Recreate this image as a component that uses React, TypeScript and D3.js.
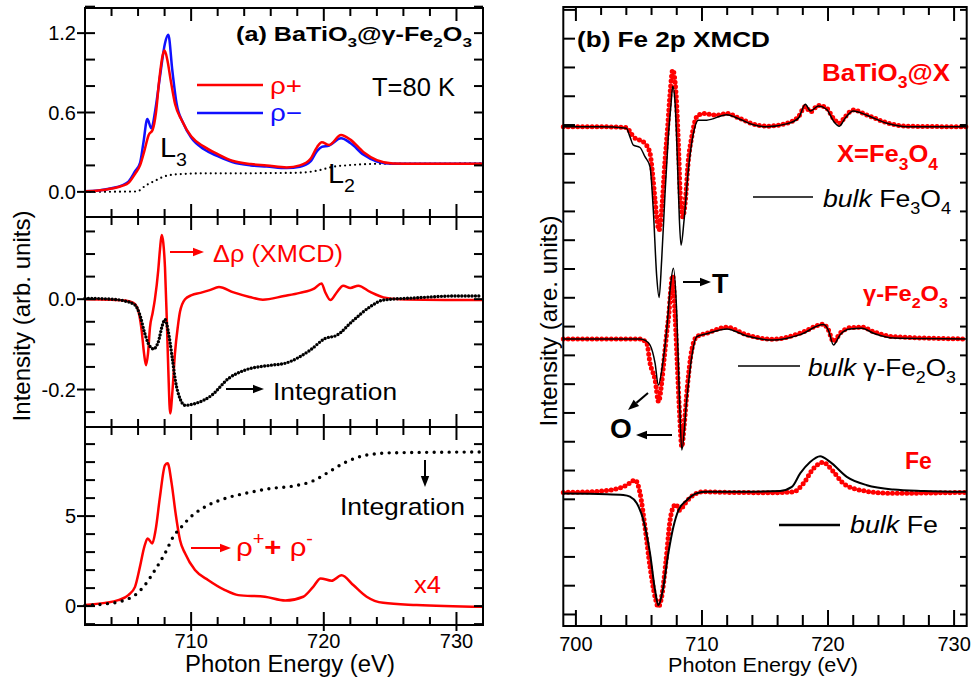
import React, { useEffect, useRef } from "react";
import * as d3 from "d3";

type Pt = [number, number];

// ---- panel (a) top: absorption spectra (eV, intensity)
const rhoPlus: Pt[] = [
  [702, 0.005], [703, 0.01], [704, 0.025], [704.8, 0.045], [705.3, 0.07], [705.8, 0.14], [706.15, 0.2],
  [706.45, 0.3], [706.8, 0.43], [707.1, 0.47], [707.35, 0.6], [707.6, 0.85], [707.85, 1.03], [708.0, 1.068],
  [708.2, 1.0], [708.45, 0.85], [708.8, 0.66], [709.3, 0.54], [710.0, 0.42], [711.0, 0.34], [712.0, 0.285],
  [713.1, 0.235], [714.5, 0.21], [715.7, 0.2], [717.2, 0.185], [718.2, 0.2], [719.0, 0.25], [719.5, 0.34],
  [719.85, 0.375], [720.4, 0.355], [721.3, 0.43], [722.0, 0.395], [723.0, 0.3], [724.0, 0.24], [725.2, 0.215],
  [727, 0.213], [732, 0.213],
];
const rhoMinus: Pt[] = [
  [702, 0.005], [703, 0.01], [704, 0.027], [704.8, 0.05], [705.3, 0.08], [705.8, 0.16], [706.15, 0.22],
  [706.4, 0.37], [706.7, 0.55], [707.0, 0.48], [707.3, 0.62], [707.65, 0.87], [708.03, 1.124], [708.28, 1.187],
  [708.58, 0.92], [708.9, 0.67], [709.4, 0.52], [710.0, 0.41], [711.0, 0.32], [712.0, 0.27], [713.1, 0.225],
  [714.5, 0.2], [715.7, 0.192], [717.2, 0.18], [718.2, 0.19], [719.0, 0.23], [719.5, 0.31], [719.85, 0.34],
  [720.4, 0.35], [721.3, 0.405], [722.0, 0.37], [723.0, 0.28], [724.0, 0.23], [725.2, 0.213], [727, 0.212],
  [732, 0.212],
];
const stepBg: Pt[] = [
  [702, 0], [705.9, 0.003], [706.6, 0.05], [707.3, 0.085], [707.9, 0.114], [708.6, 0.13], [709.5, 0.136],
  [711, 0.14], [713.2, 0.14], [716, 0.142], [718.2, 0.145], [719.2, 0.155], [720, 0.172], [720.7, 0.19],
  [721.7, 0.2], [722.7, 0.207], [724, 0.212], [732, 0.215],
];

// ---- panel (a) middle: XMCD and its integral
const xmcd: Pt[] = [
  [702, 0], [704, -0.001], [705.0, -0.003], [705.65, -0.008], [706.0, -0.024], [706.27, -0.069], [706.45, -0.12],
  [706.6, -0.146], [706.75, -0.12], [706.9, -0.062], [707.1, -0.03], [707.27, 0.0], [707.52, 0.064],
  [707.65, 0.11], [707.78, 0.142], [707.9, 0.125], [708.03, 0.07], [708.17, -0.05], [708.28, -0.157],
  [708.42, -0.253], [708.6, -0.2], [708.78, -0.12], [709.0, -0.06], [709.16, -0.028], [709.54, 0.0],
  [710.04, 0.009], [710.7, 0.014], [711.4, 0.02], [712.1, 0.027], [713.2, 0.015], [714.4, 0.005], [715.4, -0.001],
  [717.0, 0.007], [718.2, 0.014], [719.3, 0.024], [719.83, 0.035], [720.1, 0.016], [720.5, -0.002], [721.0, 0.016],
  [721.46, 0.03], [722.0, 0.025], [722.6, 0.03], [723.5, 0.016], [724.5, 0.004], [725.7, 0], [732, -0.002],
];
const xmcdInt: Pt[] = [
  [702, 0.002], [704, 0.0], [705.0, -0.004], [705.77, -0.013], [706.14, -0.035], [706.47, -0.072], [706.77, -0.098],
  [707.15, -0.11], [707.52, -0.095], [707.83, -0.058], [708.03, -0.045], [708.28, -0.072], [708.58, -0.131],
  [708.83, -0.183], [709.16, -0.22], [709.54, -0.235], [710.3, -0.231], [711.54, -0.213], [712.8, -0.176],
  [714.06, -0.157], [716.07, -0.146], [717.07, -0.142], [718.96, -0.113], [720.1, -0.087], [720.97, -0.08],
  [722.22, -0.047], [723.48, -0.017], [724.48, -0.002], [727, 0.003], [729.76, 0.007], [731.8, 0.007],
];

// ---- panel (a) bottom: summed spectrum (x4) and its integral
const rhoSum: Pt[] = [
  [702, 0.06], [703.5, 0.18], [704.5, 0.33], [705.27, 0.61], [705.77, 1.07], [706.14, 2.18], [706.47, 3.29],
  [706.72, 3.76], [707.07, 3.48], [707.32, 4.22], [707.65, 6.07], [708.03, 7.83], [708.23, 7.93], [708.53, 6.82],
  [708.83, 5.15], [709.16, 3.67], [709.54, 2.93], [710.29, 2.0], [711.3, 1.44], [712.55, 0.89], [713.55, 0.61],
  [715.56, 0.52], [717.1, 0.31], [718.45, 0.52], [719.2, 1.07], [719.76, 1.54], [720.59, 1.41], [721.34, 1.72],
  [722.22, 1.17], [723.23, 0.52], [724.48, 0.18], [727, 0.06], [732, -0.04],
];
const sumInt: Pt[] = [
  [702, 0.05], [703.5, 0.12], [705.0, 0.33], [705.77, 0.61], [706.52, 1.17], [707.27, 2.0], [708.03, 2.93],
  [708.65, 3.85], [709.28, 4.41], [710.04, 5.0], [711.3, 5.61], [712.55, 5.98], [714.06, 6.26], [716.07, 6.54],
  [717.7, 6.67], [719.2, 6.96], [720.2, 7.37], [721.72, 8.02], [723.23, 8.39], [725.24, 8.52], [731.78, 8.56],
];

// ---- panel (b): XMCD of the three samples (relative to each trace's own baseline)
const traceOffsets = [16.94, 9.57, 4.24]; // Fe3O4, gamma-Fe2O3, Fe
const fe3o4Sample: Pt[] = [
  [699, 0], [702, 0], [704.0, -0.03], [704.29, -0.17], [704.56, -0.35], [705.0, -0.45], [705.48, -0.58],
  [705.88, -0.92], [706.05, -1.5], [706.28, -2.55], [706.45, -3.3], [706.6, -3.59], [706.8, -2.9], [707.07, -1.16],
  [707.28, 0], [707.47, 1.16], [707.68, 1.97], [707.94, 1.16], [708.13, -0.58], [708.3, -2.55], [708.48, -3.13],
  [708.66, -2.66], [708.92, -1.16], [709.19, -0.35], [709.59, 0.35], [710.1, 0.46], [711.17, 0.4], [711.97, 0.46],
  [713.0, 0.29], [714.0, 0.1], [715.14, 0.02], [716.7, 0.12], [717.65, 0.35], [718.2, 0.7], [718.6, 0.52],
  [719.24, 0.74], [719.9, 0.64], [720.43, 0.29], [720.9, 0.12], [721.36, 0.35], [722.0, 0.58], [723.08, 0.41],
  [724.67, 0.14], [726.25, 0.02], [731, 0],
];
const fe3o4Bulk: Pt[] = [
  [699, 0], [702, 0], [704.0, -0.05], [704.29, -0.35], [704.56, -0.64], [705.08, -0.72], [705.48, -1.04],
  [705.88, -1.39], [706.14, -2.9], [706.41, -5.2], [706.6, -5.93], [706.8, -4.65], [707.07, -2.32], [707.33, -0.35],
  [707.55, 0.81], [707.68, 1.41], [707.87, 0.81], [708.05, -1.16], [708.21, -3.24], [708.34, -4.11], [708.58, -3.24],
  [708.92, -1.5], [709.32, -0.23], [709.71, 0.23], [710.38, 0.23], [711.97, 0.42], [713.0, 0.26], [714.0, 0.08],
  [715.14, 0], [716.7, 0.1], [717.65, 0.3], [718.2, 0.78], [718.6, 0.55], [719.24, 0.72], [719.9, 0.6],
  [720.43, 0.2], [720.9, 0.02], [721.36, 0.3], [722.0, 0.55], [723.08, 0.4], [724.67, 0.12], [726.25, 0], [731, 0],
];
const gammaSample: Pt[] = [
  [699, 0], [705.08, 0], [705.62, -0.15], [705.88, -0.84], [706.28, -1.42], [706.56, -2.18], [706.8, -1.54],
  [706.99, -0.73], [707.2, 0.2], [707.38, 0.9], [707.5, 1.59], [707.68, 2.2], [707.87, 0.78], [708.05, -0.96],
  [708.21, -2.47], [708.4, -3.74], [708.58, -3.05], [708.84, -1.66], [709.19, -0.38], [709.59, 0.08], [710.38, 0.2],
  [711.97, 0.41], [713.56, 0.14], [715.67, -0.01], [717.79, 0.2], [719.64, 0.51], [720.03, 0.31], [720.43, -0.09],
  [720.96, 0.2], [721.75, 0.39], [722.68, 0.41], [723.6, 0.25], [725.19, 0.08], [731, 0],
];
const gammaBulk: Pt[] = [
  [699, 0], [705.08, 0], [705.5, -0.05], [705.88, -0.21], [706.28, -0.84], [706.54, -1.6], [706.89, -0.84],
  [707.2, 0.31], [707.47, 1.7], [707.73, 2.46], [708.0, 0.9], [708.21, -2.0], [708.4, -3.86], [708.79, -2.12],
  [709.19, -0.62], [709.59, 0.08], [710.38, 0.18], [711.97, 0.35], [713.56, 0.1], [715.67, -0.04], [717.79, 0.15],
  [719.64, 0.5], [720.03, 0.3], [720.43, -0.21], [720.96, 0.15], [721.75, 0.35], [722.68, 0.37], [723.6, 0.2],
  [725.19, 0.03], [731, 0],
];
const feSample: Pt[] = [
  [699, 0], [701.1, 0.02], [702.97, 0.1], [704.03, 0.25], [704.7, 0.43], [705.09, -0.03], [705.48, -1.2],
  [705.88, -2.59], [706.28, -3.63], [706.54, -3.98], [706.8, -3.63], [707.15, -2.35], [707.47, -0.96],
  [707.73, -0.5], [707.94, -0.41], [708.21, -0.62], [708.66, -0.38], [709.32, -0.09], [710.1, 0.02], [712, 0],
  [715.67, -0.01], [717.25, 0.02], [718.05, 0.31], [718.84, 0.83], [719.59, 1.04], [720.43, 0.72], [721.22, 0.31],
  [722.55, 0.08], [724.93, -0.03], [731, 0],
];
const feBulk: Pt[] = [
  [699, -0.04], [702.44, -0.06], [703.76, -0.09], [704.29, -0.15], [704.83, -0.38], [705.35, -0.96],
  [705.88, -2.12], [706.28, -3.4], [706.54, -3.92], [706.89, -3.4], [707.33, -2.12], [707.73, -1.2],
  [708.13, -0.62], [708.79, -0.27], [709.59, -0.03], [710.38, 0.02], [713.02, 0.02], [716.2, 0.05], [717.13, 0.19],
  [717.79, 0.66], [718.58, 1.06], [719.37, 1.26], [720.16, 1.06], [721.49, 0.54], [723.08, 0.25], [725.19, 0.1],
  [727.57, 0.05], [731, 0.02],
];

// tick values
const xTicksA = d3.range(704, 733, 2);
const xMajorA = [710, 720, 730];
const xTicksB = d3.range(700, 731, 2);
const xMajorB = [700, 710, 720, 730];
const yTopTicks = d3.range(-0.2, 1.41, 0.2).map((v) => +v.toFixed(2)).filter((v) => v > -0.19);
const yTopLabels = [0, 0.6, 1.2];
const yMidTicks = d3.range(-0.25, 0.16, 0.05).map((v) => +v.toFixed(2));
const yMidLabels = [0, -0.2];
const yBotTicks = d3.range(-1, 10, 1);
const yBotLabels = [0, 5];
const yBTicks = d3.range(0, 22, 1);

const RED = "#ff0000";
const BLUE = "#1010ff";
const FONT = "'Liberation Sans', Arial, sans-serif";

type Part = { t: string; sub?: boolean; sup?: boolean; italic?: boolean; bold?: boolean; scale?: number };

const App = () => {
  const svgRef = useRef<SVGSVGElement>(null);

  useEffect(() => {
    const svg = d3.select(svgRef.current);
    svg.selectAll("*").remove();

    const xA = d3.scaleLinear().domain([702, 732]).range([85, 483]);
    const yTop = d3.scaleLinear().domain([-0.19, 1.39]).range([217, 8]);
    const yMid = d3.scaleLinear().domain([-0.283, 0.182]).range([427, 217]);
    const yBot = d3.scaleLinear().domain([-1.05, 9.95]).range([625, 427]);
    const xB = d3.scaleLinear().domain([699, 731]).range([563.3, 966.7]);
    const yB = d3.scaleLinear().domain([-0.4, 21.1]).range([626, 7]);

    const g = svg.append("g");

    // text with sub/superscripts
    const text = (x: number, y: number, parts: Part[], size: number, o: any = {}) => {
      const t = g.append("text")
        .attr("x", x).attr("y", y)
        .attr("font-family", FONT)
        .attr("font-size", size)
        .attr("fill", o.fill || "black")
        .attr("font-weight", o.bold ? "bold" : "normal")
        .attr("text-anchor", o.anchor || "start");
      if (o.len) t.attr("textLength", o.len).attr("lengthAdjust", "spacingAndGlyphs");
      if (o.rotate) t.attr("transform", `rotate(-90,${x},${y})`);
      let shift = 0;
      parts.forEach((p) => {
        const target = p.sub ? size * 0.32 : p.sup ? -size * 0.42 : 0;
        const s = t.append("tspan")
          .attr("dy", target - shift)
          .attr("font-size", (p.sub || p.sup ? size * 0.68 : size) * (p.scale || 1))
          .text(p.t);
        if (p.italic) s.attr("font-style", "italic");
        if (p.bold) s.attr("font-weight", "bold");
        shift = target;
      });
      return t;
    };

    const arrow = (x1: number, y1: number, x2: number, y2: number, color: string) => {
      const a = Math.atan2(y2 - y1, x2 - x1);
      const head = 11;
      const hw = 4.2;
      const bx = x2 - head * Math.cos(a);
      const by = y2 - head * Math.sin(a);
      g.append("line").attr("x1", x1).attr("y1", y1).attr("x2", bx).attr("y2", by)
        .attr("stroke", color).attr("stroke-width", 2);
      g.append("path")
        .attr("d", `M${x2},${y2}L${bx + hw * Math.sin(a)},${by - hw * Math.cos(a)}L${bx - hw * Math.sin(a)},${by + hw * Math.cos(a)}Z`)
        .attr("fill", color);
    };

    const tick = (x1: number, y1: number, x2: number, y2: number) => {
      g.append("line").attr("x1", x1).attr("y1", y1).attr("x2", x2).attr("y2", y2)
        .attr("stroke", "black").attr("stroke-width", 2);
    };

    const mk = (xs: any, ys: any, off = 0) =>
      d3.line<Pt>().x((d) => xs(d[0])).y((d) => ys(d[1] + off)).curve(d3.curveMonotoneX);

    // ---------- panel (a) curves
    g.append("path").datum(stepBg).attr("d", mk(xA, yTop)).attr("fill", "none")
      .attr("stroke", "black").attr("stroke-width", 2.2).attr("stroke-linecap", "round").attr("stroke-dasharray", "0 5");
    g.append("path").datum(rhoMinus).attr("d", mk(xA, yTop)).attr("fill", "none")
      .attr("stroke", BLUE).attr("stroke-width", 2.5);
    g.append("path").datum(rhoPlus).attr("d", mk(xA, yTop)).attr("fill", "none")
      .attr("stroke", RED).attr("stroke-width", 2.5);

    g.append("path").datum(xmcd).attr("d", mk(xA, yMid)).attr("fill", "none")
      .attr("stroke", RED).attr("stroke-width", 2.5);
    g.append("path").datum(xmcdInt).attr("d", mk(xA, yMid)).attr("fill", "none")
      .attr("stroke", "black").attr("stroke-width", 3.4).attr("stroke-linecap", "round").attr("stroke-dasharray", "0 3.4");

    g.append("path").datum(rhoSum).attr("d", mk(xA, yBot)).attr("fill", "none")
      .attr("stroke", RED).attr("stroke-width", 2.5);
    g.append("path").datum(sumInt).attr("d", mk(xA, yBot)).attr("fill", "none")
      .attr("stroke", "black").attr("stroke-width", 3.4).attr("stroke-linecap", "round").attr("stroke-dasharray", "0 7.5");

    // ---------- panel (a) frames and ticks
    const panelsA = [
      { y: yTop, ticks: yTopTicks, labels: yTopLabels, fmt: d3.format(".1f") },
      { y: yMid, ticks: yMidTicks, labels: yMidLabels, fmt: (v: number) => (v === 0 ? "0.0" : "-0.2") },
      { y: yBot, ticks: yBotTicks, labels: yBotLabels, fmt: d3.format("d") },
    ];
    panelsA.forEach((p) => {
      const [yb, yt] = p.y.range();
      g.append("rect").attr("x", 85).attr("y", yt).attr("width", 398).attr("height", yb - yt)
        .attr("fill", "none").attr("stroke", "black").attr("stroke-width", 2);
      p.ticks.forEach((v) => {
        const yy = p.y(v);
        const major = p.labels.some((l) => Math.abs(l - v) < 1e-6);
        tick(major ? 77 : 85, yy, 95, yy);
        tick(474, yy, 483, yy);
      });
      p.labels.forEach((v) => {
        g.append("text").attr("x", 76).attr("y", p.y(v)).attr("dy", "0.36em")
          .attr("text-anchor", "end").attr("font-family", FONT).attr("font-size", 20)
          .text(p.fmt(v));
      });
      xTicksA.forEach((v) => {
        const major = xMajorA.includes(v);
        const L = major ? 13 : 8;
        tick(xA(v), yb, xA(v), yb - L);
        tick(xA(v), yt, xA(v), yt + L);
      });
    });
    xMajorA.forEach((v) => {
      tick(xA(v), 625, xA(v), 631);
      g.append("text").attr("x", xA(v)).attr("y", 648).attr("text-anchor", "middle")
        .attr("font-family", FONT).attr("font-size", 20).text(v);
    });

    // legend (a)
    g.append("line").attr("x1", 197).attr("x2", 263).attr("y1", 85).attr("y2", 85).attr("stroke", RED).attr("stroke-width", 2.5);
    g.append("line").attr("x1", 197).attr("x2", 263).attr("y1", 113).attr("y2", 113).attr("stroke", BLUE).attr("stroke-width", 2.5);
    text(270, 94, [{ t: "ρ+" }], 24, { fill: RED, len: 32 });
    text(270, 121, [{ t: "ρ−" }], 24, { fill: BLUE, len: 32 });
    text(236, 41, [{ t: "(a) BaTiO" }, { t: "3", sub: true }, { t: "@γ-Fe" }, { t: "2", sub: true }, { t: "O" }, { t: "3", sub: true }], 20, { bold: true, len: 236 });
    text(372, 96, [{ t: "T=80 K" }], 25, { len: 83 });
    text(160, 157, [{ t: "L" }, { t: "3", sub: true }], 27, { len: 27 });
    text(328, 183, [{ t: "L" }, { t: "2", sub: true }], 27, { len: 27 });

    arrow(170, 252, 204, 252, RED);
    text(213, 262, [{ t: "Δρ (XMCD)" }], 23, { fill: RED, len: 130 });
    arrow(226, 389, 264, 389, "black");
    text(273, 400, [{ t: "Integration" }], 24, { len: 124 });

    arrow(425, 460, 425, 487, "black");
    text(340, 515, [{ t: "Integration" }], 24, { len: 125 });
    arrow(191, 548, 231, 548, RED);
    text(236, 556, [{ t: "ρ" }, { t: "+", sup: true }, { t: "+", bold: true }, { t: " ρ" }, { t: "-", sup: true }], 26, { fill: RED, len: 77 });
    text(414, 593, [{ t: "x4" }], 23, { fill: RED, len: 27 });

    text(290, 672, [{ t: "Photon Energy (eV)" }], 23, { anchor: "middle", len: 210 });
    text(30, 316, [{ t: "Intensity (arb. units)" }], 24, { anchor: "middle", rotate: true });

    // ---------- panel (b) curves
    const samples = [fe3o4Sample, gammaSample, feSample];
    const bulks = [fe3o4Bulk, gammaBulk, feBulk];
    samples.forEach((s, i) => {
      g.append("path").datum(s).attr("d", mk(xB, yB, traceOffsets[i])).attr("fill", "none")
        .attr("stroke", RED).attr("stroke-width", 5).attr("stroke-linecap", "round").attr("stroke-dasharray", "0 4.8");
    });
    bulks.forEach((s, i) => {
      g.append("path").datum(s).attr("d", mk(xB, yB, traceOffsets[i])).attr("fill", "none")
        .attr("stroke", "black").attr("stroke-width", i === 2 ? 2 : 1.5);
    });

    // ---------- panel (b) frame and ticks
    g.append("rect").attr("x", 563.3).attr("y", 7).attr("width", 403.4).attr("height", 619)
      .attr("fill", "none").attr("stroke", "black").attr("stroke-width", 2);
    yBTicks.forEach((v) => {
      tick(563.3, yB(v), 575, yB(v));
      tick(960, yB(v), 966.7, yB(v));
    });
    xTicksB.forEach((v) => {
      const major = xMajorB.includes(v);
      tick(xB(v), 626, xB(v), 626 - (major ? 16 : 11));
      tick(xB(v), 7, xB(v), 7 + (major ? 14 : 8));
    });
    xMajorB.forEach((v) => {
      g.append("text").attr("x", xB(v)).attr("y", 651).attr("text-anchor", "middle")
        .attr("font-family", FONT).attr("font-size", 20).text(v);
    });

    text(577, 47, [{ t: "(b) Fe 2p XMCD" }], 22, { bold: true, len: 193 });
    text(822, 81, [{ t: "BaTiO" }, { t: "3", sub: true }, { t: "@X" }], 23, { bold: true, fill: RED, len: 128 });
    text(837, 162, [{ t: "X=Fe" }, { t: "3", sub: true }, { t: "O" }, { t: "4", sub: true }], 24, { bold: true, fill: RED, len: 101 });
    g.append("line").attr("x1", 753).attr("x2", 813).attr("y1", 197).attr("y2", 197).attr("stroke", "black").attr("stroke-width", 1.5);
    text(823, 207, [{ t: "bulk", italic: true }, { t: " Fe" }, { t: "3", sub: true }, { t: "O" }, { t: "4", sub: true }], 23, { len: 128 });

    arrow(683, 282, 711, 282, "black");
    text(712, 293, [{ t: "T" }], 27, { bold: true });
    text(863, 301, [{ t: "γ-Fe" }, { t: "2", sub: true }, { t: "O" }, { t: "3", sub: true }], 22, { bold: true, fill: RED, len: 85 });
    g.append("line").attr("x1", 738).attr("x2", 800).attr("y1", 366).attr("y2", 366).attr("stroke", "black").attr("stroke-width", 1.5);
    text(808, 376, [{ t: "bulk", italic: true }, { t: " γ-Fe" }, { t: "2", sub: true }, { t: "O" }, { t: "3", sub: true }], 23, { len: 148 });

    arrow(648, 393, 628, 410, "black");
    arrow(672, 435, 636, 435, "black");
    text(610, 438, [{ t: "O" }], 28, { bold: true });

    text(905, 469, [{ t: "Fe" }], 23, { bold: true, fill: RED });
    g.append("line").attr("x1", 779).attr("x2", 840).attr("y1", 525).attr("y2", 525).attr("stroke", "black").attr("stroke-width", 2.5);
    text(850, 533, [{ t: "bulk", italic: true }, { t: " Fe" }], 24, { len: 88 });

    text(763, 672, [{ t: "Photon Energy (eV)" }], 21, { anchor: "middle", len: 190 });
    text(557, 321, [{ t: "Intensity (are. units)" }], 24, { anchor: "middle", rotate: true });
  }, []);

  return (
    <div style={{ position: "absolute", left: 0, top: 0, background: "white" }}>
      <svg ref={svgRef} width={972} height={684}></svg>
    </div>
  );
};

export default App;
